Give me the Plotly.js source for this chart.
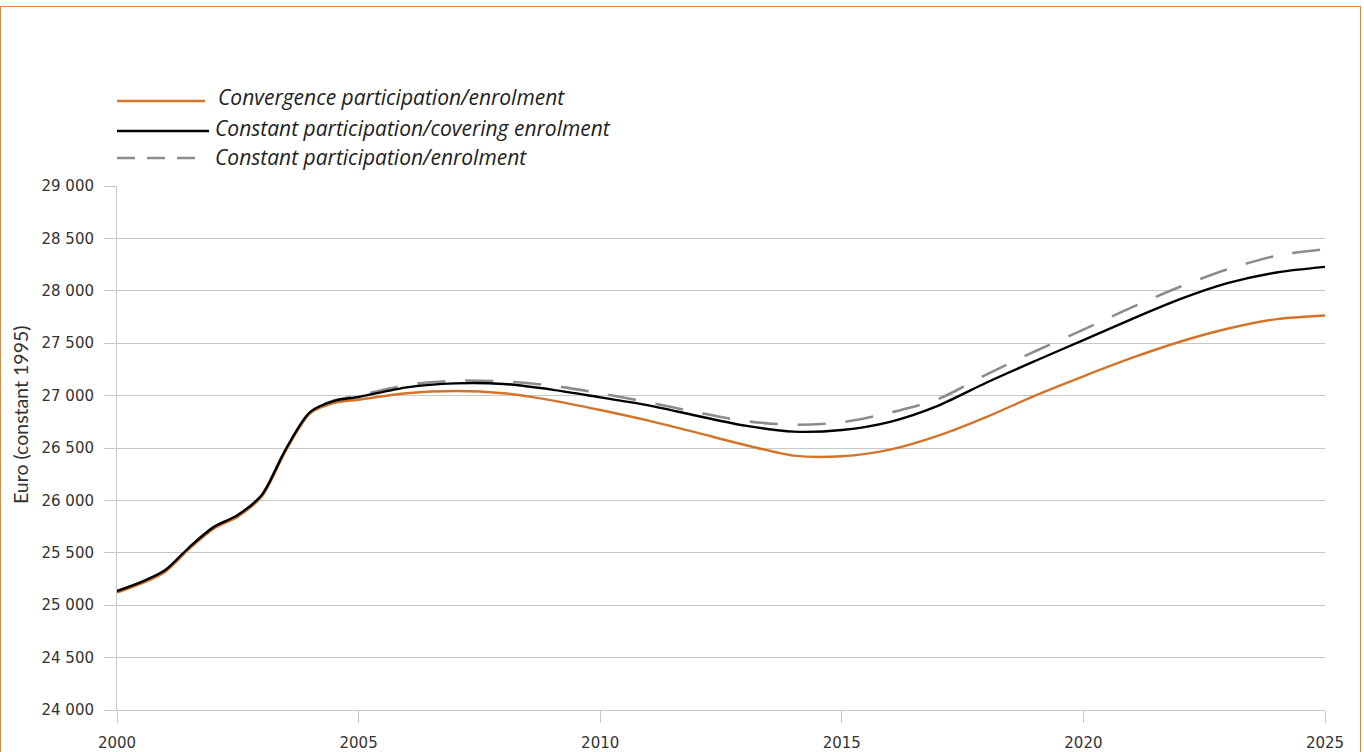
<!DOCTYPE html>
<html>
<head>
<meta charset="utf-8">
<script src="https://cdn.plot.ly/plotly-3.0.1.min.js"></script>
<style>
  html, body { margin: 0; padding: 0; background: #ffffff; }
  #chart { width: 1364px; height: 752px; }
  #frame { position: absolute; left: 0px; top: 6px; width: 1361px; height: 800px;
           border: 1.5px solid #d98a4b; pointer-events: none; box-sizing: border-box; }
</style>
</head>
<body>
<div id="chart"></div>
<div id="frame"></div>
<script>
// ---- data ----
const years = [2000, 2000.5, 2001, 2001.5, 2002, 2002.5, 2003, 2003.5, 2004, 2004.5,
               2005, 2006, 2007, 2008, 2009, 2010, 2011, 2012, 2013, 2014, 2015,
               2016, 2017, 2018, 2019, 2020, 2021, 2022, 2023, 2024, 2025];

const convergence = [25120, 25205, 25320, 25540, 25730, 25845, 26040, 26480, 26830, 26930,
                     26961, 27022, 27044, 27022, 26955, 26863, 26761, 26646, 26529, 26427, 26421,
                     26485, 26618, 26797, 27000, 27184, 27359, 27514, 27640, 27730, 27765];

const constantCovering = [25135, 25220, 25335, 25555, 25745, 25860, 26055, 26495, 26845, 26950,
                          26987, 27079, 27117, 27111, 27057, 26983, 26907, 26808, 26713, 26656, 26672,
                          26750, 26905, 27125, 27330, 27530, 27730, 27920, 28075, 28175, 28228];

const constantEnrolment = [25135, 25220, 25335, 25555, 25745, 25860, 26055, 26495, 26845, 26955,
                           27000, 27101, 27142, 27136, 27095, 27022, 26936, 26841, 26757, 26722, 26745,
                           26837, 26968, 27203, 27423, 27629, 27842, 28039, 28208, 28335, 28397];

const seriesNames = ["Convergence participation/enrolment",
                     "Constant participation/covering enrolment",
                     "Constant participation/enrolment"];

const xTicks = [2000, 2005, 2010, 2015, 2020, 2025];
const yTicks = [24000, 24500, 25000, 25500, 26000, 26500, 27000, 27500, 28000, 28500, 29000];
const yTickText = ["24 000", "24 500", "25 000", "25 500", "26 000", "26 500",
                   "27 000", "27 500", "28 000", "28 500", "29 000"];
const yTitle = "Euro (constant 1995)";

// ---- styles ----
const colors = ["#d4742a", "#000000", "#8c8c8c"];
const FONT = "Lato, 'Open Sans', sans-serif";
const TICK_FONT = "'DejaVu Sans', Lato, sans-serif";
const LEGEND_FONT = "'Open Sans', Lato, sans-serif";

const traces = [
  { x: years, y: constantEnrolment, name: seriesNames[2], mode: "lines",
    line: { color: colors[2], width: 2.6, dash: "28px,20px", shape: "spline", smoothing: 0.8 } },
  { x: years, y: convergence, name: seriesNames[0], mode: "lines",
    line: { color: colors[0], width: 2.4, shape: "spline", smoothing: 0.8 } },
  { x: years, y: constantCovering, name: seriesNames[1], mode: "lines",
    line: { color: colors[1], width: 2.4, shape: "spline", smoothing: 0.8 } }
];

// manual legend (lines + text) in paper coordinates
const L = 117, R = 1325, T = 186, B = 710;
const px2x = p => (p - L) / (R - L);
const py2y = p => (B - p) / (B - T);
const legendRows = [
  { y: 101, x1: 117, x2: 205, tx: 216, ty: 97, color: colors[0], dash: "solid", name: seriesNames[0] },
  { y: 131, x1: 117, x2: 209, tx: 213, ty: 128, color: colors[1], dash: "solid", name: seriesNames[1] },
  { y: 158, x1: 117, x2: 200, tx: 213, ty: 157, color: colors[2], dash: "18px,12px", name: seriesNames[2] }
];
const shapes = legendRows.map(r => ({
  type: "line", xref: "paper", yref: "paper",
  x0: px2x(r.x1), x1: px2x(r.x2), y0: py2y(r.y), y1: py2y(r.y),
  line: { color: r.color, width: 2.6, dash: r.dash }
}));
const annotations = legendRows.map(r => ({
  xref: "paper", yref: "paper", x: px2x(r.tx), y: py2y(r.ty),
  xanchor: "left", yanchor: "middle", showarrow: false,
  text: "<i>" + r.name + "</i>",
  font: { family: LEGEND_FONT, size: 21, color: "#222222" }
}));
// y axis title (placed as rotated annotation to match reference offset)
annotations.push({
  xref: "paper", yref: "paper", x: px2x(20), y: py2y(415),
  xanchor: "center", yanchor: "middle", showarrow: false, textangle: -90,
  text: yTitle, font: { family: FONT, size: 19.5, color: "#333333" }
});

const layout = {
  width: 1364, height: 752,
  margin: { l: L, r: 1364 - R, t: T, b: 752 - B, pad: 0 },
  paper_bgcolor: "#ffffff", plot_bgcolor: "#ffffff",
  showlegend: false,
  font: { family: FONT, size: 15, color: "#333333" },
  xaxis: {
    range: [2000, 2025], tickvals: xTicks, ticktext: xTicks.map(String),
    showgrid: false, zeroline: false, showline: true, linecolor: "#c8c8c8", linewidth: 1,
    ticks: "outside", ticklen: 12, tickcolor: "#c8c8c8", tickwidth: 1,
    tickfont: { family: TICK_FONT, size: 15, color: "#333333" }, ticklabelstandoff: 7
  },
  yaxis: {
    range: [24000, 29000], tickvals: yTicks, ticktext: yTickText,
    showgrid: true, gridcolor: "#c8c8c8", gridwidth: 1, zeroline: false,
    showline: true, linecolor: "#c8c8c8", linewidth: 1,
    ticks: "outside", ticklen: 12, tickcolor: "#c8c8c8", tickwidth: 1,
    tickfont: { family: TICK_FONT, size: 15, color: "#333333" }, ticklabelstandoff: 7
  },
  shapes: shapes,
  annotations: annotations
};

Plotly.newPlot("chart", traces, layout, { displayModeBar: false, staticPlot: true });
</script>
</body>
</html>
